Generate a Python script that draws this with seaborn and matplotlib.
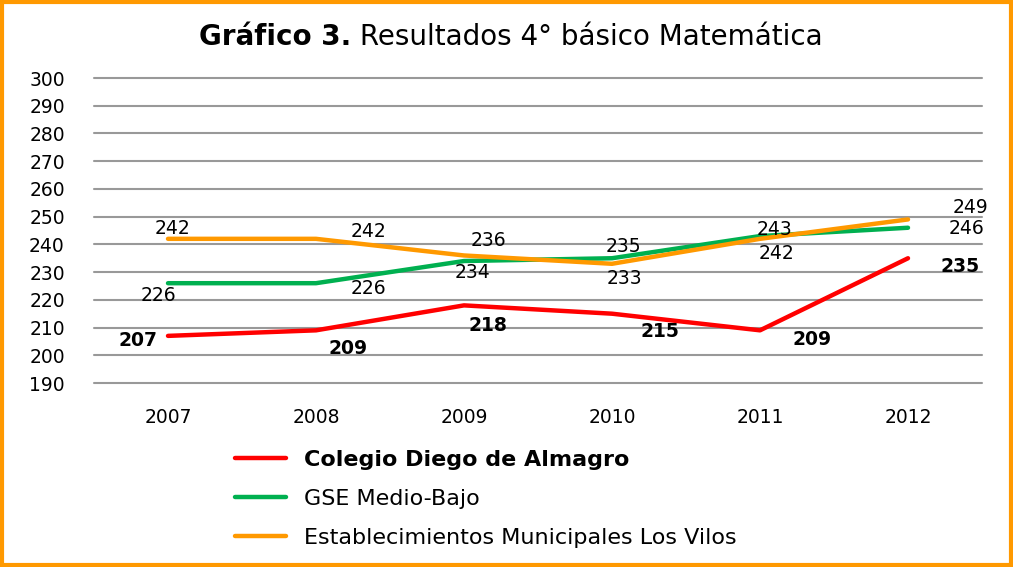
import numpy as np
import pandas as pd
import matplotlib
matplotlib.use("Agg")
import matplotlib.pyplot as plt
import seaborn as sns
from matplotlib.patches import Rectangle
from matplotlib.lines import Line2D

years = ["2007", "2008", "2009", "2010", "2011", "2012"]
series_names = ["Colegio Diego de Almagro", "GSE Medio-Bajo", "Establecimientos Municipales Los Vilos"]
colegio = [207, 209, 218, 215, 209, 235]
gse = [226, 226, 234, 235, 243, 246]
municipales = [242, 242, 236, 233, 242, 249]
colors = ["#FF0000", "#00B050", "#FF9900"]

# label offsets in pixels (dx, dy) from each point
off_colegio = [(-30, -5), (32, -18), (24, -20), (48, -18), (52, -9), (52, -8)]
off_gse = [(-10, -12), (52, -5), (8, -11), (11, 12), (14, 7), (58, -1)]
off_muni = [(4, 10), (52, 7), (24, 15), (12, -15), (16, -15), (62, 12)]

df = pd.DataFrame({
    "year": years * 3,
    "value": colegio + gse + municipales,
    "serie": [series_names[0]] * 6 + [series_names[1]] * 6 + [series_names[2]] * 6,
})
df["x"] = list(range(6)) * 3

sns.set_style("white")
plt.rcParams["font.family"] = ["DejaVu Sans"]
plt.rcParams["text.color"] = "black"
plt.rcParams["xtick.color"] = "black"
plt.rcParams["ytick.color"] = "black"

fig = plt.figure(figsize=(10.13, 5.67), dpi=100)
ax = fig.add_axes([0.0928, 0.3245, 0.8766, 0.5379])

for y in range(190, 301, 10):
    ax.axhline(y, color="#999999", lw=1.5, zorder=0, clip_on=False)

sns.lineplot(data=df, x="x", y="value", hue="serie", palette=colors,
             hue_order=series_names, lw=3.2, ax=ax, legend=False,
             solid_capstyle="round")

for vals, offs, bold in [(colegio, off_colegio, True), (gse, off_gse, False), (municipales, off_muni, False)]:
    for i, v in enumerate(vals):
        ax.annotate(str(v), (i, v), xytext=offs[i], textcoords="offset pixels",
                    ha="center", va="center", fontsize=13.5,
                    fontweight="bold" if bold else "normal", color="black")

ax.set_xlim(-0.5, 5.5)
ax.set_ylim(190, 300)
ax.set_yticks(range(190, 301, 10))
ax.set_xticks(range(6))
ax.set_xticklabels(years)
ax.tick_params(axis="y", length=0, pad=21, labelsize=13.5)
ax.tick_params(axis="x", length=0, pad=18, labelsize=13.5)
ax.set_xlabel("")
ax.set_ylabel("")
for s in ax.spines.values():
    s.set_visible(False)

handles = [Line2D([0], [0], color=c, lw=3.2, solid_capstyle="round") for c in colors]
leg = fig.legend(handles, series_names, loc="upper left", bbox_to_anchor=(226 / 1013, 1 - 441 / 567),
                 frameon=False, fontsize=16, handlelength=2.3, handletextpad=0.8,
                 labelspacing=0.86, borderaxespad=0)
leg.get_texts()[0].set_fontweight("bold")

# title: bold part + normal part, centred around x=511
ty = 1 - 37 / 567
t1 = fig.text(0, ty, "Gráfico 3.", fontsize=20, fontweight="bold", va="center", ha="left")
t2 = fig.text(0, ty, " Resultados 4° básico Matemática", fontsize=20, va="center", ha="left")
fig.canvas.draw()
w1 = t1.get_window_extent().width
w2 = t2.get_window_extent().width
x0 = 511 - (w1 + w2) / 2
t1.set_x(x0 / fig.bbox.width)
t2.set_x((x0 + w1) / fig.bbox.width)

fig.patches.append(Rectangle((0.002, 0.003), 0.996, 0.994, transform=fig.transFigure,
                             fill=False, edgecolor="#FF9900", lw=3))

fig.savefig("out.png", dpi=100)
